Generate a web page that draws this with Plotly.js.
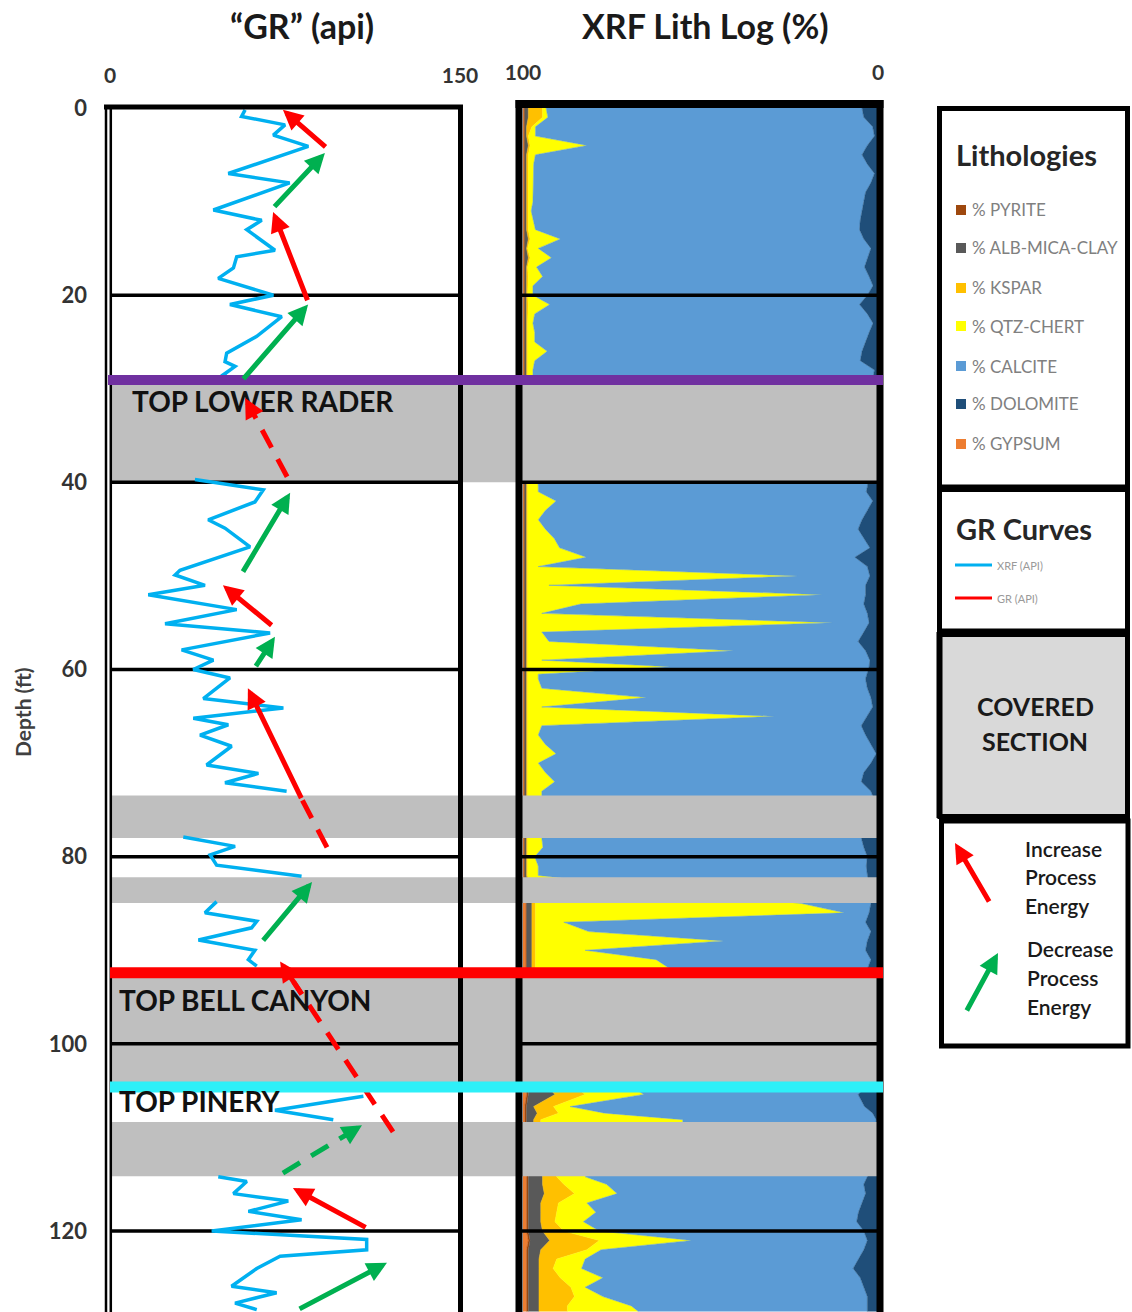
<!DOCTYPE html>
<html>
<head>
<meta charset="utf-8">
<script src="https://cdn.plot.ly/plotly-3.0.1.min.js"></script>
<style>html,body{margin:0;padding:0;background:#fff;}#chart{width:1132px;height:1312px;}</style>
</head>
<body>
<div id="chart"></div>
<script>
// ---------------- DATA ----------------
// GR curve (XRF derived, API) vs depth (ft); null = covered interval
const grDepth = [0.2,0.9,1.8,2.9,4.1,7.0,8.0,10.9,12,13,15.2,15.9,17.1,18.2,20,21,22.3,24.4,26.2,27.1,27.6,28.5,29,
  34,
  39.7,40.8,42.1,44,44.9,46.9,49.4,49.9,51,52,53.6,55.1,56.1,57.9,59,60,60.9,63.1,64.1,65.2,65.9,67,68.2,70.2,71.1,72.1,73,
  75,
  77.9,78.9,79.8,80.9,82.1,
  83.5,
  84.8,86,86.9,87.6,88.9,90,91,91.7,
  98,
  105.6,107.1,108.1,
  111,
  114.2,114.7,116,116.8,117.9,118.8,120,120.9,122,122.7,124,125.9,126.6,127.7,128.4];
const grApi = [57.9,56.4,75,70,85,50.7,77,44.3,65,58.6,70.7,54.3,52.9,46.4,70,51.4,73.6,62.9,50,49.3,53.6,48.6,52,
  null,
  36.4,65.7,62.1,42.1,49.3,60,30,27.9,40.7,16.4,54.3,23.6,68.6,30.7,44.3,35.7,51.4,40,74.3,35.7,50.7,38.6,52.1,41.4,63.6,49.3,75.7,
  null,
  31.4,53.6,42.9,45.7,82.1,
  null,
  45.7,40.7,62.9,60.7,37.9,62.1,59.3,62.9,
  null,
  108.6,70.7,95.7,
  null,
  46.4,58.6,52.9,76.4,59.3,82.1,43.6,110,110,72.9,62.9,52.1,71.4,53.6,62.9];

// XRF lithology (%) vs depth (ft)
const lithDepth = [0,1,2,3,4,5,6,7,8,9,10,11,12,13,14,15,16,17,18,19,20,21,22,23,24,25,26,27,28,29,
  40.5,41,42,43,44,45,46,47,48,49,50,51,52,53,54,55,56,57,58,59,59.7,60.5,61,62,63,64,65,66,67,68,69,70,71,72,73,73.5,
  78,79,80,81,82,
  85,86,87,88,89,90,91,92,92.5,
  104.8,105.4,106.7,107.4,108.1,108.5,
  114.2,115,116,117,118,119,120,121,122,123,124,125,126,127,128,128.6];
const dolomite = [4.5,4,1.5,1,3,4.5,3,1,2,3.5,4,4.5,5,5.2,4,2,3,3.8,2.5,1.4,3,5.2,3,1.4,2.5,3.5,4.5,5,1,1.5,
  3,3.3,1.5,3,4.5,5.6,4,2.3,6.5,3,2.3,3.5,3.5,4,3,2.5,4,5.6,3.5,2.3,2.5,3,3.5,3,2,1.5,3,4.7,3.5,2,0.5,2,4,4.7,2,1.5,
  4.7,4,3,3.3,3,
  2,2.5,3.5,2,3,3.5,2,3,3,
  4,5.6,3.8,1.5,0.5,0.5,
  3,4,3.5,4.5,5.5,6,4,3,4,5.5,7,5,4,3,3,3];
const calcite = [89,89,95,95.5,79,92,94,96,95.2,93.7,93.2,93.2,92.2,91.3,85.5,93.7,89,92.4,92,95.8,94.2,87.3,93.7,95.8,94.2,93.2,88.7,91.7,96.2,95.7,
  92.7,92.4,89.2,90.7,91.2,88.1,87.2,87.4,75.7,92.7,20.4,89.2,12.2,79.7,91.7,10.2,90.7,87.1,37.2,92.4,56.2,92.7,92.2,91.7,63.2,93.2,26.1,90,92.2,91.7,90.2,93.7,89.7,86.4,92.7,93.2,
  90,90.4,93.7,92.4,92.7,
  19.5,7,85,79.5,40.5,79,60.5,55.5,55.5,
  64.5,60.4,82.9,75.5,54.5,54.5,
  79.5,72.5,70,77.5,74,77,74.5,49.5,74,77,76.5,72.5,78.5,74.5,66.5,64.5];
const qtzChert = [1,1.5,1,2,16,2,1.5,1.5,1.5,1.5,1.5,1,1.5,2,8.5,3,6,2.5,4,1.5,1.5,6,2,1.5,2,2,5.5,2,1.5,1.5,
  3,3,8,5,3,5,7.5,9,16.5,3,76,6,83,15,4,86,4,6,58,4,40,3,3,4,33.5,4,69.6,4,3,5,8,3,5,7.6,4,4,
  4,4.3,2,3,3,
  75,87,8,15,53,14,34,38,38,
  16,16.5,4.7,13,40,40,
  8,12,12,8,11,8,10,26,4,8,8,12,4,8,18,20];
const kspar = [4,4,1.5,0.5,0.5,0.5,0.5,0.5,0.3,0.3,0.3,0.3,0.3,0.5,0.5,0.3,0.5,0.3,0.5,0.3,0.3,0.5,0.3,0.3,0.3,0.3,0.3,0.3,0.3,0.3,
  0.3,0.3,0.3,0.3,0.3,0.3,0.3,0.3,0.3,0.3,0.3,0.3,0.3,0.3,0.3,0.3,0.3,0.3,0.3,0.3,0.3,0.3,0.3,0.3,0.3,0.3,0.3,0.3,0.3,0.3,0.3,0.3,0.3,0.3,0.3,0.3,
  0.3,0.3,0.3,0.3,0.3,
  1,1,1,1,1,1,1,1,1,
  8,8.5,5.6,6,2,2,
  4,6,8.5,5,4.5,4,6,14,13,5,4,6,9,10,8,8];
const albMicaClay = [1,1,0.5,0.5,1,0.5,0.5,0.5,0.5,0.5,0.5,0.5,0.5,0.5,1,0.5,1,0.5,0.5,0.5,0.5,0.5,0.5,0.5,0.5,0.5,0.5,0.5,0.5,0.5,
  0.5,0.5,0.5,0.5,0.5,0.5,0.5,0.5,0.5,0.5,0.5,0.5,0.5,0.5,0.5,0.5,0.5,0.5,0.5,0.5,0.5,0.5,0.5,0.5,0.5,0.5,0.5,0.5,0.5,0.5,0.5,0.5,0.5,0.5,0.5,0.5,
  0.5,0.5,0.5,0.5,0.5,
  1.5,1.5,1.5,1.5,1.5,1.5,1.5,1.5,1.5,
  6,7.5,2,3,2,2,
  4,4,4.5,3.5,3.5,3.5,4,5.5,3.5,3,3,3,3,3,3,3];
const pyrite = [0.3,0.3,0.3,0.3,0.3,0.3,0.3,0.3,0.3,0.3,0.3,0.3,0.3,0.3,0.3,0.3,0.3,0.3,0.3,0.3,0.3,0.3,0.3,0.3,0.3,0.3,0.3,0.3,0.3,0.3,
  0.3,0.3,0.3,0.3,0.3,0.3,0.3,0.3,0.3,0.3,0.3,0.3,0.3,0.3,0.3,0.3,0.3,0.3,0.3,0.3,0.3,0.3,0.3,0.3,0.3,0.3,0.3,0.3,0.3,0.3,0.3,0.3,0.3,0.3,0.3,0.3,
  0.3,0.3,0.3,0.3,0.3,
  0.2,0.2,0.2,0.2,0.2,0.2,0.2,0.2,0.2,
  0.5,0.5,0.5,0.5,0.5,0.5,
  0.5,0.5,0.5,0.5,0.5,0.5,0.5,0.5,0.5,0.5,0.5,0.5,0.5,0.5,0.5,0.5];
const gypsum = [0.2,0.2,0.2,0.2,0.2,0.2,0.2,0.2,0.2,0.2,0.2,0.2,0.2,0.2,0.2,0.2,0.2,0.2,0.2,0.2,0.2,0.2,0.2,0.2,0.2,0.2,0.2,0.2,0.2,0.2,
  0.2,0.2,0.2,0.2,0.2,0.2,0.2,0.2,0.2,0.2,0.2,0.2,0.2,0.2,0.2,0.2,0.2,0.2,0.2,0.2,0.2,0.2,0.2,0.2,0.2,0.2,0.2,0.2,0.2,0.2,0.2,0.2,0.2,0.2,0.2,0.2,
  0.2,0.2,0.2,0.2,0.2,
  0.8,0.8,0.8,0.8,0.8,0.8,0.8,0.8,0.8,
  1,1,0.5,0.5,0.5,0.5,
  1,1,1,1,1,1,1,1.5,1,1,1,1,1,1,1,1];

const lithNames = ['% DOLOMITE','% CALCITE','% QTZ-CHERT','% KSPAR','% ALB-MICA-CLAY','% PYRITE','% GYPSUM'];
const lithColors = ['#1F4E79','#5B9BD5','#FFFF00','#FFC000','#595959','#9E480E','#ED7D31'];
const legendNames = ['% PYRITE','% ALB-MICA-CLAY','% KSPAR','% QTZ-CHERT','% CALCITE','% DOLOMITE','% GYPSUM'];
const legendColors = ['#9E480E','#595959','#FFC000','#FFFF00','#5B9BD5','#1F4E79','#ED7D31'];

// Depth ticks, axis ticks
const depthTicks = [0,20,40,60,80,100,120];
const gridDepths = [20,40,60,80,100,120];
const grTicks = [0,150];
const xrfTicks = [100,0];

// Covered intervals (ft)
const coverTop = [29.06,73.45,82.2,92.4,108.35];
const coverBot = [40,78,84.95,104.6,114.15];

// Formation tops
const formNames = ['TOP LOWER RADER','TOP BELL CANYON','TOP PINERY'];
const formDepth = [29.06,92.4,104.6];
const formColor = ['#7030A0','#FF0000','#2EF0F8'];
const formLabelDepth = [31.3,95.3,106.1];

// Process-energy arrows on the GR track: head (x,y), tail (x,y)
const arrowHeadX = [74.1,92.1,69.9,84.9,77.2,48.4,70.7,59.1,86.6,78.4,118.7];
const arrowHeadY = [0.2,4.8,11.1,21.0,41.1,51.0,56.5,62.0,82.7,115.4,123.4];
const arrowTailX = [93.0,69.9,84.9,56.6,56.6,69.9,62.1,82.3,65.1,110.2,80.6];
const arrowTailY = [4.3,10.7,20.7,29.1,49.7,55.4,59.8,73.9,89.1,119.7,128.4];
const arrowKind  = ['inc','dec','inc','dec','dec','inc','dec','inc','dec','inc','dec'];
// dashed (through covered intervals)
const dashHeadX = [57.9,72.9,108.0,82.3];
const dashHeadY = [31.0,91.2,108.7,73.9];
const dashTailX = [75.9,121.3,74.1,93.0];
const dashTailY = [39.4,109.4,113.8,79.0];
const dashKind  = ['inc','inc','dec','inc'];
const dashHasHead = [true,true,true,false];

// ---------------- LAYOUT HELPERS ----------------
const W = 1132, H = 1312;
const PX = v => v / W;
const PY = v => 1 - v / H;
const FONT = 'Lato, "Open Sans", sans-serif';
const RED = '#FF0000', GREEN = '#00B050';
const kindColor = k => k === 'inc' ? RED : GREEN;

const traces = [];
traces.push({
  x: grApi, y: grDepth, xaxis: 'x', yaxis: 'y', mode: 'lines', connectgaps: false,
  line: {color: '#00B0F0', width: 3.5}, hoverinfo: 'skip', name: 'XRF (API)'
});
const lithVals = [dolomite, calcite, qtzChert, kspar, albMicaClay, pyrite, gypsum];
lithVals.forEach((vals, i) => {
  traces.push({
    x: vals, y: lithDepth, xaxis: 'x2', yaxis: 'y', mode: 'lines',
    stackgroup: 'lith', orientation: 'h', name: lithNames[i],
    line: {width: 0.5, color: lithColors[i]}, fillcolor: lithColors[i], hoverinfo: 'skip'
  });
});

const shapes = [];
// covered sections
coverTop.forEach((t, i) => {
  shapes.push({type:'rect', layer:'below', xref:'paper', yref:'y', x0:PX(110), x1:PX(517), y0:t, y1:coverBot[i], fillcolor:'#BFBFBF', line:{width:0}});
});
// left gridlines (below curve)
gridDepths.forEach(d => {
  shapes.push({type:'line', layer:'below', xref:'paper', yref:'y', x0:PX(110), x1:PX(459), y0:d, y1:d, line:{color:'#000', width:3.5}});
});
// right covered over lith
coverTop.forEach((t, i) => {
  shapes.push({type:'rect', layer:'above', xref:'paper', yref:'y', x0:PX(516), x1:PX(879), y0:t, y1:coverBot[i], fillcolor:'#BFBFBF', line:{width:0}});
});
gridDepths.forEach(d => {
  shapes.push({type:'line', layer:'above', xref:'paper', yref:'y', x0:PX(522), x1:PX(877), y0:d, y1:d, line:{color:'#000', width:3.5}});
});
// panel borders
const bl = (x0,y0,x1,y1,w,c) => shapes.push({type:'line', layer:'above', xref:'paper', yref:'paper', x0:PX(x0), y0:PY(y0), x1:PX(x1), y1:PY(y1), line:{color:c||'#000', width:w}});
bl(104, 107, 463, 107, 5);
bl(106, 105, 106, 1312, 2.5);
bl(110.8, 105, 110.8, 1312, 2.5);
bl(460.5, 105, 460.5, 1312, 5);
bl(515.5, 104, 883.5, 104, 8);
bl(519, 100, 519, 1312, 7);
bl(880, 100, 880, 1312, 7);
// dashed arrow shafts
dashHeadX.forEach((hx, i) => {
  const f = dashHasHead[i] ? 0.12 : 0;
  const ex = hx + f * (dashTailX[i] - hx), ey = dashHeadY[i] + f * (dashTailY[i] - dashHeadY[i]);
  shapes.push({type:'line', layer:'above', xref:'x', yref:'y', x0:dashTailX[i], y0:dashTailY[i], x1:ex, y1:ey,
    line:{color:kindColor(dashKind[i]), width:5, dash:'20px,13px'}});
});
// formation tops
formDepth.forEach((d, i) => {
  shapes.push({type:'line', layer:'above', xref:'paper', yref:'y', x0:PX(i===0?108:110), x1:PX(883), y0:d, y1:d, line:{color:formColor[i], width:i===0?10:11}});
});
// ---- legend panel ----
const rectP = (x0,y0,x1,y1,w,fill) => shapes.push({type:'rect', layer:'above', xref:'paper', yref:'paper', x0:PX(x0), y0:PY(y0), x1:PX(x1), y1:PY(y1), line:{color:'#000', width:w}, fillcolor:fill||'rgba(0,0,0,0)'});
rectP(939.5, 108.5, 1127.5, 487, 5, '#fff');
rectP(939.5, 489.5, 1127.5, 631, 5, '#fff');
rectP(940, 634.5, 1127.5, 816.5, 5, '#D9D9D9');
bl(938.5, 632, 938.5, 818, 4);
rectP(941.5, 821, 1128, 1046, 5, '#fff');
const legY = [210,248,288,326,366,404,444];
legendNames.forEach((n, i) => {
  shapes.push({type:'rect', layer:'above', xref:'paper', yref:'paper', x0:PX(956), x1:PX(966), y0:PY(legY[i]-5), y1:PY(legY[i]+5), fillcolor:legendColors[i], line:{width:0}});
});
bl(955, 565, 992, 565, 3, '#00B0F0');
bl(955, 598, 992, 598, 3, '#FF0000');

// ---------------- ANNOTATIONS ----------------
const ann = [];
const txt = (text, x, y, size, opts) => ann.push(Object.assign({
  text, xref:'paper', yref:'paper', x:PX(x), y:PY(y), showarrow:false, xanchor:'left', yanchor:'middle',
  font:{family:FONT, size, color:'#1a1a1a', weight:700}
}, opts || {}));
txt('“GR” (api)', 302, 26, 34, {xanchor:'center'});
txt('XRF Lith Log (%)', 705, 26, 34, {xanchor:'center'});
txt('Depth (ft)', 22, 712, 21, {xanchor:'center', textangle:-90, font:{family:FONT, size:21, color:'#404040', weight:700}});
formNames.forEach((n, i) => {
  ann.push({text:n, xref:'paper', yref:'y', x:PX(i===0?130:117), y:formLabelDepth[i], showarrow:false, xanchor:'left', yanchor:'middle',
    font:{family:FONT, size:28, color:'#111', weight:700}});
});
// legend text
txt('Lithologies', 954, 154, 29, {font:{family:FONT, size:29, color:'#262626', weight:700}});
legendNames.forEach((n, i) => txt(n, 970, legY[i], 17, {font:{family:FONT, size:17, color:'#808080', weight:400}}));
txt('GR Curves', 954, 528, 29, {font:{family:FONT, size:29, color:'#262626', weight:700}});
txt('XRF (API)', 995, 565, 11, {font:{family:FONT, size:11, color:'#9a9a9a', weight:400}});
txt('GR (API)', 995, 598, 11, {font:{family:FONT, size:11, color:'#9a9a9a', weight:400}});
txt('COVERED', 1035, 706, 25, {xanchor:'center'});
txt('SECTION', 1035, 741, 25, {xanchor:'center'});
['Increase','Process','Energy'].forEach((t, i) => txt(t, 1023, 848 + i*28.5, 21, {font:{family:FONT, size:21, color:'#1a1a1a', weight:600}}));
['Decrease','Process','Energy'].forEach((t, i) => txt(t, 1025, 948 + i*29, 21, {font:{family:FONT, size:21, color:'#1a1a1a', weight:600}}));
// legend arrows
ann.push({text:'', xref:'paper', yref:'paper', x:PX(955), y:PY(843), ax:35, ay:60, showarrow:true, arrowhead:2, arrowsize:0.8, arrowwidth:5, arrowcolor:RED, standoff:0});
ann.push({text:'', xref:'paper', yref:'paper', x:PX(998), y:PY(953), ax:-32, ay:59, showarrow:true, arrowhead:2, arrowsize:0.8, arrowwidth:5, arrowcolor:GREEN, standoff:0});
// process-energy arrows in data coordinates
arrowHeadX.forEach((hx, i) => {
  ann.push({text:'', xref:'x', yref:'y', axref:'x', ayref:'y', x:hx, y:arrowHeadY[i], ax:arrowTailX[i], ay:arrowTailY[i],
    showarrow:true, arrowhead:2, arrowsize:0.8, arrowwidth:5, arrowcolor:kindColor(arrowKind[i]), standoff:0});
});
dashHeadX.forEach((hx, i) => {
  if (!dashHasHead[i]) return;
  const f = 0.2;
  ann.push({text:'', xref:'x', yref:'y', axref:'x', ayref:'y', x:hx, y:dashHeadY[i],
    ax:hx + f * (dashTailX[i] - hx), ay:dashHeadY[i] + f * (dashTailY[i] - dashHeadY[i]),
    showarrow:true, arrowhead:2, arrowsize:0.8, arrowwidth:5, arrowcolor:kindColor(dashKind[i]), standoff:0});
});

const xTickFont = {family:FONT, size:21, color:'#333', weight:700};
const yTickFont = {family:FONT, size:22, color:'#333', weight:700};
const layout = {
  width: W, height: H,
  margin: {l:0, r:0, t:0, b:0},
  paper_bgcolor: '#fff', plot_bgcolor: 'rgba(0,0,0,0)',
  showlegend: false,
  xaxis: {domain:[PX(110), PX(460)], range:[0,150], side:'top', anchor:'y', tickmode:'array', tickvals:grTicks, ticktext:grTicks.map(String),
    tickfont:xTickFont, ticks:'', showgrid:false, zeroline:false, showline:false, ticklabelstandoff:20, fixedrange:true},
  xaxis2: {domain:[PX(523), PX(878)], range:[100,0], side:'top', anchor:'y', tickmode:'array', tickvals:xrfTicks, ticktext:xrfTicks.map(String),
    tickfont:xTickFont, ticks:'', showgrid:false, zeroline:false, showline:false, ticklabelstandoff:23, fixedrange:true},
  yaxis: {domain:[0, 1 - 108/H], range:[128.65, 0], anchor:'x', tickmode:'array', tickvals:depthTicks, ticktext:depthTicks.map(String),
    tickfont:yTickFont, ticks:'', showgrid:false, zeroline:false, showline:false, ticklabelstandoff:22, fixedrange:true},
  shapes: shapes,
  annotations: ann
};
Plotly.newPlot('chart', traces, layout, {staticPlot:true, displayModeBar:false});
</script>
</body>
</html>
